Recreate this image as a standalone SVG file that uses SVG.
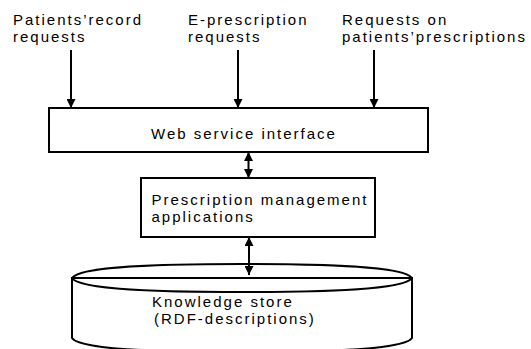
<svg xmlns="http://www.w3.org/2000/svg" width="531" height="349" viewBox="0 0 531 349">
  <style>
    text { font-family: "Liberation Sans", Arial, sans-serif; font-size: 15px; letter-spacing: 2px; fill: #000; }
    .box { fill: #fff; stroke: #000; stroke-width: 2; }
    .edge { stroke: #000; stroke-width: 2; fill: none; }
  </style>
  <defs>
    <marker id="ah" markerUnits="userSpaceOnUse" markerWidth="9" markerHeight="9" viewBox="0 0 8 8" refX="8" refY="4" orient="auto-start-reverse">
      <path d="M0,0 L8,4 L0,8 z" fill="#000"/>
    </marker>
  </defs>
  <rect width="531" height="349" fill="#fff"/>

  <g id="label-patients-record">
    <text x="13" y="24.5">Patients’record</text>
    <text x="13" y="41.5">requests</text>
  </g>
  <g id="label-eprescription">
    <text x="188" y="24.5">E-prescription</text>
    <text x="188" y="41.5">requests</text>
  </g>
  <g id="label-requests-prescriptions">
    <text x="342" y="24.5">Requests on</text>
    <text x="342" y="41.5">patients’prescriptions</text>
  </g>

  <g id="web-service-interface">
    <rect class="box" x="49" y="108" width="379" height="44"/>
    <text x="151" y="138.5">Web service interface</text>
  </g>

  <g id="prescription-management">
    <rect class="box" x="141" y="178" width="234" height="59"/>
    <text x="151.5" y="204.5">Prescription management</text>
    <text x="151.5" y="221.5">applications</text>
  </g>

  <g id="knowledge-store">
    <path class="box" d="M72,278 L72,338 C80,350 160,352 242,352 S404,350 412,338 L412,278 Z"/>
    <path class="edge" d="M72,278 C80,266 160,264 242,264 S404,266 412,278 C404,290 324,292 242,292 S80,290 72,278 Z"/>
    <text x="152" y="306.5">Knowledge store</text>
    <text x="154" y="323.5">(RDF-descriptions)</text>
  </g>

  <g id="connectors">
    <line class="edge" x1="71" y1="50" x2="71" y2="108" marker-end="url(#ah)"/>
    <line class="edge" x1="238" y1="50" x2="238" y2="108" marker-end="url(#ah)"/>
    <line class="edge" x1="374" y1="50" x2="374" y2="108" marker-end="url(#ah)"/>
    <line class="edge" x1="248.5" y1="152" x2="248.5" y2="178" marker-start="url(#ah)" marker-end="url(#ah)"/>
    <line class="edge" x1="249" y1="237" x2="249" y2="275" marker-start="url(#ah)" marker-end="url(#ah)"/>
  </g>
</svg>
